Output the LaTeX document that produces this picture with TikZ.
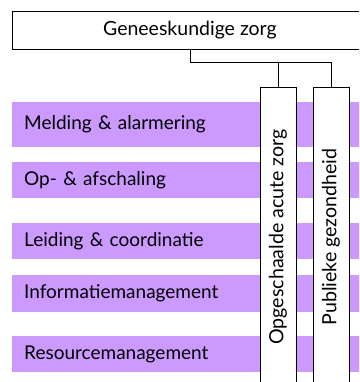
\documentclass[tikz,border=0pt]{standalone}
\usepackage{fontspec}
\setmainfont{Lato}
\definecolor{bandcol}{HTML}{CC99FF}
\begin{document}
\begin{tikzpicture}[x=1pt,y=-1pt,
  every node/.style={font=\fontsize{19}{22}\selectfont},
  band/.style={fill=bandcol, draw=none, anchor=north west, inner xsep=12pt, inner ysep=0pt,
               text width=340pt, align=left},
  headbox/.style={draw=black, line width=0.8pt, fill=white, anchor=north west,
                  minimum width=355pt, minimum height=38pt, font=\fontsize{19.5}{22}\selectfont},
  colbox/.style={draw=black, line width=0.8pt, fill=white, rotate=90,
                 minimum width=300pt, minimum height=36pt, inner sep=0pt,
                 font=\fontsize{19.6}{22}\selectfont},
  link/.style={draw=black, line width=0.8pt}]
\useasboundingbox (0,0) rectangle (359,382);
\clip (0,0) rectangle (359,382);
\node[band, minimum height=45pt] (b1) at (12,102) {Melding \& alarmering};
\node[band, minimum height=36pt] (b2) at (12,162) {Op- \& afschaling};
\node[band, minimum height=36pt] (b3) at (12,223) {Leiding \& coordinatie};
\node[band, minimum height=37pt] (b4) at (12,275) {Informatiemanagement};
\node[band, minimum height=36pt] (b5) at (12,336) {Resourcemanagement};
\node[headbox] (top) at (12,11) {Geneeskundige zorg};
\node[colbox] (c1) at (278,237) {Opgeschaalde acute zorg};
\node[colbox] (c2) at (331,237) {Publieke gezondheid};
\draw[link] (top.south) -- ++(0,13) -| (c1.east);
\draw[link] (top.south) -- ++(0,13) -| (c2.east);
\end{tikzpicture}
\end{document}
